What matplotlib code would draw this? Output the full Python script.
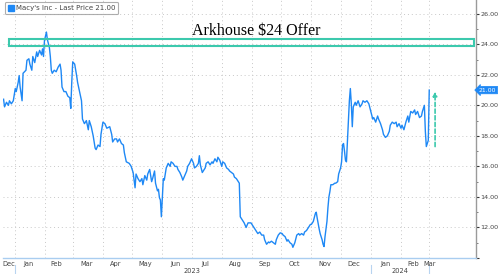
import numpy as np
import pandas as pd
import matplotlib
matplotlib.use("Agg")
import matplotlib.pyplot as plt
import matplotlib.dates as mdates
import matplotlib.transforms as mtrans
from matplotlib.lines import Line2D
from matplotlib.patches import Rectangle

# Macy's Inc - last price
dates = [
    "2022-12-20", "2022-12-21", "2022-12-23", "2022-12-25", "2022-12-26", "2022-12-28", "2022-12-30",
    "2023-01-01", "2023-01-02", "2023-01-04", "2023-01-05", "2023-01-06", "2023-01-08", "2023-01-09",
    "2023-01-12", "2023-01-13", "2023-01-15", "2023-01-16", "2023-01-18", "2023-01-19", "2023-01-21",
    "2023-01-23", "2023-01-24", "2023-01-26", "2023-01-28", "2023-01-29", "2023-01-30", "2023-01-31",
    "2023-02-02", "2023-02-03", "2023-02-05", "2023-02-06", "2023-02-07", "2023-02-08", "2023-02-10",
    "2023-02-12", "2023-02-14", "2023-02-16", "2023-02-17", "2023-02-18", "2023-02-20", "2023-02-22",
    "2023-02-24", "2023-02-26", "2023-02-27", "2023-02-28", "2023-03-01", "2023-03-03", "2023-03-05",
    "2023-03-06", "2023-03-08", "2023-03-10", "2023-03-11", "2023-03-13", "2023-03-15", "2023-03-17",
    "2023-03-18", "2023-03-20", "2023-03-22", "2023-03-24", "2023-03-25", "2023-03-27", "2023-03-29",
    "2023-03-30", "2023-04-01", "2023-04-03", "2023-04-05", "2023-04-08", "2023-04-10", "2023-04-11",
    "2023-04-13", "2023-04-15", "2023-04-16", "2023-04-18", "2023-04-20", "2023-04-22", "2023-04-23",
    "2023-04-25", "2023-04-28", "2023-04-30", "2023-05-02", "2023-05-04", "2023-05-05", "2023-05-07",
    "2023-05-09", "2023-05-11", "2023-05-12", "2023-05-14", "2023-05-16", "2023-05-17", "2023-05-19",
    "2023-05-21", "2023-05-22", "2023-05-24", "2023-05-25", "2023-05-27", "2023-05-28", "2023-05-29",
    "2023-05-30", "2023-05-31", "2023-06-01", "2023-06-02", "2023-06-03", "2023-06-05", "2023-06-07",
    "2023-06-09", "2023-06-10", "2023-06-12", "2023-06-14", "2023-06-16", "2023-06-17", "2023-06-19",
    "2023-06-21", "2023-06-22", "2023-06-24", "2023-06-26", "2023-06-27", "2023-06-29", "2023-07-01",
    "2023-07-03", "2023-07-04", "2023-07-06", "2023-07-08", "2023-07-09", "2023-07-10", "2023-07-12",
    "2023-07-15", "2023-07-16", "2023-07-18", "2023-07-20", "2023-07-22", "2023-07-23", "2023-07-25",
    "2023-07-27", "2023-07-28", "2023-07-30", "2023-08-01", "2023-08-02", "2023-08-04", "2023-08-06",
    "2023-08-08", "2023-08-09", "2023-08-11", "2023-08-13", "2023-08-14", "2023-08-16", "2023-08-18",
    "2023-08-19", "2023-08-20", "2023-08-22", "2023-08-24", "2023-08-26", "2023-08-28", "2023-08-31",
    "2023-09-02", "2023-09-04", "2023-09-06", "2023-09-07", "2023-09-09", "2023-09-11", "2023-09-13",
    "2023-09-14", "2023-09-16", "2023-09-18", "2023-09-19", "2023-09-21", "2023-09-23", "2023-09-25",
    "2023-09-26", "2023-09-28", "2023-09-30", "2023-10-02", "2023-10-03", "2023-10-05", "2023-10-07",
    "2023-10-08", "2023-10-10", "2023-10-12", "2023-10-13", "2023-10-15", "2023-10-17", "2023-10-19",
    "2023-10-20", "2023-10-22", "2023-10-24", "2023-10-25", "2023-10-27", "2023-10-29", "2023-10-31",
    "2023-11-01", "2023-11-03", "2023-11-05", "2023-11-06", "2023-11-07", "2023-11-09", "2023-11-10",
    "2023-11-12", "2023-11-13", "2023-11-14", "2023-11-15", "2023-11-17", "2023-11-18", "2023-11-19",
    "2023-11-20", "2023-11-21", "2023-11-23", "2023-11-25", "2023-11-26", "2023-11-28", "2023-11-29",
    "2023-12-01", "2023-12-02", "2023-12-03", "2023-12-04", "2023-12-05", "2023-12-06", "2023-12-07",
    "2023-12-09", "2023-12-10", "2023-12-11", "2023-12-12", "2023-12-13", "2023-12-14", "2023-12-16",
    "2023-12-17", "2023-12-19", "2023-12-21", "2023-12-23", "2023-12-24", "2023-12-26", "2023-12-28",
    "2023-12-30", "2024-01-01", "2024-01-03", "2024-01-04", "2024-01-06", "2024-01-08", "2024-01-09",
    "2024-01-11", "2024-01-13", "2024-01-14", "2024-01-16", "2024-01-18", "2024-01-20", "2024-01-21",
    "2024-01-23", "2024-01-25", "2024-01-27", "2024-01-28", "2024-01-30", "2024-02-01", "2024-02-02",
    "2024-02-04", "2024-02-06", "2024-02-08", "2024-02-09", "2024-02-11", "2024-02-13", "2024-02-15",
    "2024-02-16", "2024-02-18", "2024-02-20", "2024-02-22", "2024-02-23", "2024-02-25", "2024-02-26",
    "2024-02-27", "2024-02-29", "2024-03-01",
]
prices = [
    20.4, 19.9, 20.2, 20.0, 20.3, 20.1, 20.3,
    21.1, 20.9, 21.5, 21.95, 21.2, 20.3, 22.1,
    22.3, 22.95, 23.05, 22.7, 22.3, 23.2, 22.8,
    23.5, 23.2, 23.6, 23.3, 23.7, 23.2, 24.25,
    24.8, 24.3, 23.8, 23.2, 22.3, 22.1, 22.3,
    22.2, 22.5, 22.7, 22.3, 21.2, 20.9, 20.9,
    20.6, 20.5, 19.8, 21.5, 22.85, 22.7, 21.95,
    21.5, 20.9, 20.3, 19.1, 18.8, 19.0, 18.4,
    19.0, 18.6, 18.0, 17.2, 17.1, 17.4, 17.3,
    18.1, 18.9, 18.8, 18.5, 18.6, 18.1, 17.6,
    17.8, 17.8, 17.6, 17.8, 17.5, 17.4, 16.9,
    16.3, 16.2, 16.0, 15.6, 14.6, 15.5, 15.2,
    15.0, 15.2, 14.8, 15.4, 15.1, 15.5, 15.8,
    15.0, 15.2, 15.7, 14.9, 14.4, 14.5, 13.95,
    13.8, 12.7, 14.0, 15.2, 15.1, 15.9, 16.2,
    16.0, 16.3, 16.2, 16.0, 16.0, 15.8, 15.6,
    15.3, 15.1, 15.4, 15.7, 16.0, 16.2, 16.5,
    16.2, 15.9, 16.0, 16.2, 16.7, 16.1, 15.6,
    15.9, 16.2, 16.3, 16.1, 16.3, 16.2, 16.5,
    16.3, 16.6, 16.4, 16.0, 16.3, 16.2, 15.9,
    15.8, 15.7, 15.6, 15.5, 15.3, 15.2, 15.0,
    14.9, 12.7, 12.5, 12.3, 12.0, 12.3, 12.3,
    12.1, 11.9, 11.7, 11.6, 11.7, 11.5, 11.5,
    11.2, 10.9, 11.05, 11.0, 11.1, 11.0, 10.9,
    11.2, 11.5, 11.65, 11.6, 11.5, 11.4, 11.1,
    11.2, 11.0, 10.9, 10.7, 11.0, 11.5, 11.6,
    11.5, 11.6, 11.5, 11.7, 11.8, 12.0, 12.2,
    12.2, 12.4, 12.9, 13.0, 12.6, 11.9, 11.6,
    11.2, 10.9, 10.75, 11.4, 12.4, 13.3, 14.0,
    14.35, 14.8, 14.8, 14.9, 14.9, 15.0, 15.5,
    15.9, 16.3, 17.4, 17.5, 17.0, 16.4, 16.3,
    18.9, 20.3, 21.1, 20.1, 18.6, 19.9, 20.2,
    20.0, 20.3, 19.9, 20.1, 20.3, 20.2, 20.3,
    20.1, 19.6, 19.1, 19.2, 18.9, 19.3, 19.1,
    18.8, 18.4, 18.1, 17.9, 18.0, 18.3, 18.7,
    18.9, 18.8, 18.9, 18.6, 18.8, 18.5, 18.7,
    18.4, 18.9, 19.3, 18.9, 19.6, 19.5, 19.7,
    19.4, 19.6, 19.2, 19.3, 19.6, 20.0, 18.3,
    17.3, 17.7, 21.0,
]
last_price = 21.00

offer_price = 24.0
offer_band = (23.87, 24.35)
offer_span = ("2022-12-26", "2024-04-16")
arrow_date = "2024-03-07"
arrow_from, arrow_to = 17.3, 20.9

month_starts = pd.date_range("2023-01-01", "2024-03-01", freq="MS")
month_lbl_dates = ["2022-12-25", "2023-01-15", "2023-02-12", "2023-03-15", "2023-04-14", "2023-05-14",
                   "2023-06-15", "2023-07-15", "2023-08-15", "2023-09-14", "2023-10-15", "2023-11-15",
                   "2023-12-15", "2024-01-16", "2024-02-14", "2024-03-01"]
month_lbls = ["Dec", "Jan", "Feb", "Mar", "Apr", "May", "Jun", "Jul", "Aug", "Sep", "Oct", "Nov",
              "Dec", "Jan", "Feb", "Mar"]
year_lbl_dates = ["2023-07-01", "2024-01-31"]
year_lbls = ["2023", "2024"]
year_breaks = ["2023-01-01", "2024-01-01", "2024-03-01"]

BLUE = "#1e88f5"
TEAL = "#3cc9ad"
GRID = "#c8c8c8"

fig = plt.figure(figsize=(5.0, 2.74), dpi=100)
ax = fig.add_axes([0.006, 0.0584, 0.946, 0.9416])

x = pd.to_datetime(dates)
ax.plot(x, prices, color=BLUE, lw=1.0, zorder=3)

ax.set_xlim(pd.Timestamp("2022-12-19 10:00"), pd.Timestamp("2024-04-18"))
ax.set_ylim(10, 26.9)

# grid
ax.set_xticks(month_starts)
ax.set_xticklabels([])
ax.tick_params(axis="x", length=0)
ax.set_yticks(np.arange(10, 27, 2))
ax.set_yticks(np.arange(11, 27, 2), minor=True)
ax.grid(True, which="major", ls=(0, (1, 3)), color=GRID, lw=0.7)
ax.yaxis.tick_right()
ax.yaxis.set_major_formatter(matplotlib.ticker.FormatStrFormatter("%.2f"))
ax.tick_params(axis="y", which="major", length=2.2, width=0.8, color="#333333",
               labelsize=4.6, labelcolor="#444444", pad=1.0)
ax.tick_params(axis="y", which="minor", length=1.5, width=0.6, color="#666666")
labels = ax.get_yticklabels()
labels[0].set_visible(False)

for s in ("top", "left"):
    ax.spines[s].set_visible(False)
ax.spines["right"].set_color("#9a9a9a")
ax.spines["right"].set_linewidth(1.0)
ax.spines["bottom"].set_color("#a9cdf0")
ax.spines["bottom"].set_linewidth(1.0)

# month / year labels
tb = mtrans.blended_transform_factory(ax.transData, ax.transAxes)
for d, m in zip(month_lbl_dates, month_lbls):
    ax.text(pd.Timestamp(d), -0.012, m, transform=tb, ha="center", va="top",
            fontsize=4.8, color="#444444", clip_on=False)
for d, yl in zip(year_lbl_dates, year_lbls):
    ax.text(pd.Timestamp(d), -0.040, yl, transform=tb, ha="center", va="top",
            fontsize=4.8, color="#444444", clip_on=False)
for d in year_breaks:
    ax.plot([pd.Timestamp(d)] * 2, [-0.027, -0.07], transform=tb, color="#b8d4f0",
            lw=0.8, clip_on=False)

# Arkhouse offer band
x0 = mdates.date2num(pd.Timestamp(offer_span[0]))
x1 = mdates.date2num(pd.Timestamp(offer_span[1]))
ax.add_patch(Rectangle((x0, offer_band[0]), x1 - x0, offer_band[1] - offer_band[0],
                       fill=False, edgecolor=TEAL, lw=1.5, zorder=4))
ax.text(pd.Timestamp("2023-09-05"), 24.85, "Arkhouse $%d Offer" % offer_price, ha="center", va="center",
        fontsize=11.5, family="Liberation Serif", color="black")

# dashed arrow
ax.annotate("", xy=(pd.Timestamp(arrow_date), arrow_to), xytext=(pd.Timestamp(arrow_date), arrow_from),
            arrowprops=dict(arrowstyle="-|>", color=TEAL, lw=1.2, ls=(0, (2.5, 1.5)),
                            mutation_scale=6, shrinkA=0, shrinkB=0))

# last price tag
ax.text(1.006, (last_price - 10) / 16.9, "%.2f" % last_price, transform=ax.transAxes,
        ha="left", va="center", fontsize=4.4, color="white", clip_on=False,
        bbox=dict(boxstyle="larrow,pad=0.2", fc=BLUE, ec=BLUE, lw=0.5))

# legend
h = Line2D([], [], marker="s", ls="none", color=BLUE, markersize=4.5)
leg = ax.legend([h], ["Macy's Inc - Last Price %.2f" % last_price], loc="upper left",
                bbox_to_anchor=(0.0, 1.0), fontsize=5, frameon=True, fancybox=True,
                handlelength=0.8, handletextpad=0.3, borderpad=0.45, borderaxespad=0.3)
leg.get_frame().set_edgecolor("#9a9a9a")
leg.get_frame().set_linewidth(0.8)
for t in leg.get_texts():
    t.set_color("#444444")

fig.savefig("out.png", dpi=100)
